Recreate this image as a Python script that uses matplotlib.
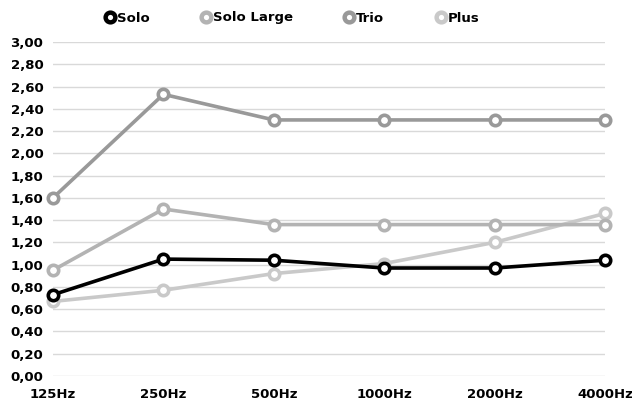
import matplotlib
matplotlib.use("Agg")
import matplotlib.pyplot as plt
from matplotlib.ticker import FixedLocator, FuncFormatter

freqs = ["125Hz", "250Hz", "500Hz", "1000Hz", "2000Hz", "4000Hz"]
solo = [0.73, 1.05, 1.04, 0.97, 0.97, 1.04]
solo_large = [0.95, 1.50, 1.36, 1.36, 1.36, 1.36]
trio = [1.60, 2.53, 2.30, 2.30, 2.30, 2.30]
plus = [0.67, 0.77, 0.92, 1.01, 1.20, 1.46]

series = [
    ("Solo", solo, "#000000"),
    ("Solo Large", solo_large, "#b3b3b3"),
    ("Trio", trio, "#999999"),
    ("Plus", plus, "#c9c9c9"),
]

plt.rcParams['font.family'] = ['DejaVu Sans']

fig = plt.figure(figsize=(6.32, 4.08), dpi=100)
ax = fig.add_axes([53 / 632, 1 - 376 / 408, 552 / 632, 334 / 408])

x = list(range(len(freqs)))
# draw in reverse so Solo is on top
for name, vals, col in reversed(series):
    ax.plot(x, vals, color=col, lw=2.6, marker='o', ms=7.5, mfc='white',
            mec=col, mew=2.6, label=name, clip_on=False, zorder=3)

ax.set_xlim(0, len(freqs) - 1)
ax.set_ylim(0, 3.0)
ax.yaxis.set_major_locator(FixedLocator([i * 0.2 for i in range(16)]))
ax.yaxis.set_major_formatter(FuncFormatter(lambda v, p: f"{v:.2f}".replace(".", ",")))
ax.set_xticks(x)
ax.set_xticklabels(freqs)
ax.grid(axis='y', color='#d9d9d9', lw=1)
ax.set_axisbelow(True)
for s in ax.spines.values():
    s.set_visible(False)
ax.tick_params(length=0, labelsize=9.5)
ax.tick_params(axis='y', pad=7)
ax.tick_params(axis='x', pad=9)
for lab in ax.get_xticklabels() + ax.get_yticklabels():
    lab.set_fontweight('bold')

handles, labels = ax.get_legend_handles_labels()
handles, labels = handles[::-1], labels[::-1]
leg = fig.legend(handles, labels, loc='center', bbox_to_anchor=(292 / 632, 1 - 18 / 408),
                 ncol=4, frameon=False, handlelength=0.8, handletextpad=0.1,
                 columnspacing=3.9, prop={'weight': 'bold', 'size': 9.5})
for h in leg.legend_handles:
    h.set_linestyle('None')
    h.set_markersize(7)
    h.set_markeredgewidth(3.2)

fig.savefig("out.png", dpi=100)
